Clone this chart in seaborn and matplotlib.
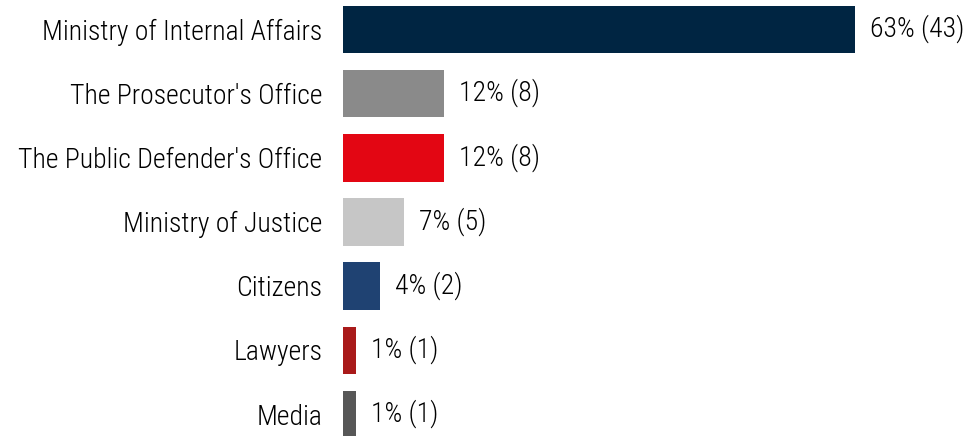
import matplotlib
matplotlib.use("Agg")
import matplotlib.pyplot as plt
from matplotlib import font_manager
import seaborn as sns
import pandas as pd

categories = [
    "Ministry of Internal Affairs",
    "The Prosecutor's Office",
    "The Public Defender's Office",
    "Ministry of Justice",
    "Citizens",
    "Lawyers",
    "Media",
]
percents = [63, 12, 12, 7, 4, 1, 1]
counts = [43, 8, 8, 5, 2, 1, 1]
colors = ["#002542", "#8a8a8a", "#e30613", "#c6c6c6", "#1f4272", "#a91a1a", "#575757"]

sns.set_theme(style="white")
available = {f.name for f in font_manager.fontManager.ttflist}
family = next((f for f in ["Liberation Sans Narrow", "Roboto Condensed", "Roboto"] if f in available), "DejaVu Sans")
plt.rcParams["font.family"] = [family, "DejaVu Sans"]
plt.rcParams["font.weight"] = "light"

df = pd.DataFrame({"category": categories, "percent": percents})

W, H, DPI = 972, 436, 100
fig = plt.figure(figsize=(W / DPI, H / DPI), dpi=DPI)
ax_left = 342
ax = fig.add_axes([ax_left / W, 0, (W - ax_left) / W, 1])

sns.barplot(data=df, x="percent", y="category", hue="category", palette=colors,
            legend=False, orient="h", width=0.66, ax=ax, saturation=1)

# thin same-colour outline gives the bars a few extra pixels
for patch, c in zip(ax.patches, colors):
    patch.set_edgecolor(c)
    patch.set_linewidth(3.6)

labels = [f"{p}% ({n})" for p, n in zip(percents, counts)]
for cont, lab in zip(ax.containers, labels):
    ax.bar_label(cont, labels=[lab], padding=13, fontsize=20, color="#000000",
                 fontweight="light")

px_per_unit = 8.06
x0_px = 344.5
ax.set_xlim(-(x0_px - ax_left) / px_per_unit, (W - x0_px) / px_per_unit)
ax.set_ylim(6 + 22 / 64.17, -29 / 64.17)

ax.set_xlabel("")
ax.set_ylabel("")
ax.set_xticks([])
ax.tick_params(axis="y", length=0, pad=14, labelsize=20, labelcolor="#000000")
for lbl in ax.get_yticklabels():
    lbl.set_fontweight("light")
for s in ax.spines.values():
    s.set_visible(False)

fig.savefig("out.png", dpi=DPI)
